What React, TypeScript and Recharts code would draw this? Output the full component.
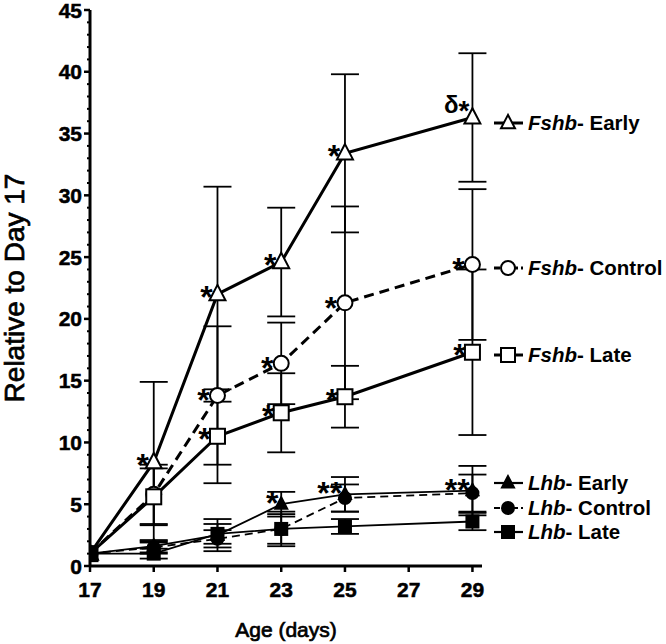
import React from 'react';
import { LineChart, Line, XAxis, YAxis, ErrorBar, LabelList } from 'recharts';

const FONT = '"Liberation Sans", Arial, Helvetica, sans-serif';

const days = [17, 19, 21, 23, 25, 29];
const xTicks = [17, 19, 21, 23, 25, 27, 29];
const yTicks = Array.from({ length: 46 }, (_, i) => i);

const fshbEarly = [1, 8.4, 22.0, 24.6, 33.4, 36.3];
const fshbEarlyErr = [0, 6.5, 8.7, 4.4, 6.4, 5.2];
const fshbEarlyMarks = ['', '*', '*', '*', '*', 'δ*'];

const fshbControl = [1, 5.8, 13.8, 16.4, 21.3, 24.4];
const fshbControlErr = [0, 2.4, 5.6, 3.3, 7.8, 6.1];
const fshbControlMarks = ['', '', '*', '*', '*', '*'];

const fshbLate = [1, 5.6, 10.5, 12.4, 13.7, 17.3];
const fshbLateErr = [0, 2.3, 3.8, 3.2, 2.5, 6.7];
const fshbLateMarks = ['', '', '*', '*', '*', '*'];

const lhbEarly = [1, 1.6, 2.5, 5.0, 5.8, 6.1];
const lhbEarlyErr = [0, 0.5, 1.3, 1.0, 1.4, 2.0];
const lhbEarlyMarks = ['', '', '', '*', '**', '**'];

const lhbControl = [1, 1.5, 2.2, 3.0, 5.5, 5.9];
const lhbControlErr = [0, 0.5, 0.7, 1.2, 1.1, 1.5];

const lhbLate = [1, 1.0, 2.6, 3.0, 3.2, 3.6];
const lhbLateErr = [0, 0.4, 0.8, 1.4, 0.6, 0.7];

const legendItems = [
  { gene: 'Fshb', group: '- Early', shape: 'triangle', filled: false, dashed: false, y: 123 },
  { gene: 'Fshb', group: '- Control', shape: 'circle', filled: false, dashed: true, y: 268 },
  { gene: 'Fshb', group: '- Late', shape: 'square', filled: false, dashed: false, y: 355 },
  { gene: 'Lhb', group: '- Early', shape: 'triangle', filled: true, dashed: false, y: 483 },
  { gene: 'Lhb', group: '- Control', shape: 'circle', filled: true, dashed: true, y: 508 },
  { gene: 'Lhb', group: '- Late', shape: 'square', filled: true, dashed: false, y: 532 },
];

const data = days.map((d, i) => ({
  day: d,
  fe: fshbEarly[i], feErr: fshbEarlyErr[i], feMark: fshbEarlyMarks[i],
  fc: fshbControl[i], fcErr: fshbControlErr[i], fcMark: fshbControlMarks[i],
  fl: fshbLate[i], flErr: fshbLateErr[i], flMark: fshbLateMarks[i],
  le: lhbEarly[i], leErr: lhbEarlyErr[i], leMark: lhbEarlyMarks[i],
  lc: lhbControl[i], lcErr: lhbControlErr[i],
  ll: lhbLate[i], llErr: lhbLateErr[i],
}));

function Marker({ cx, cy, shape, filled, size }: any) {
  const fill = filled ? '#000' : '#fff';
  const s = size;
  if (shape === 'triangle') {
    return (
      <polygon
        points={`${cx},${cy - s * 0.58} ${cx - s / 2},${cy + s * 0.38} ${cx + s / 2},${cy + s * 0.38}`}
        fill={fill} stroke="#000" strokeWidth={2} strokeLinejoin="miter"
      />
    );
  }
  if (shape === 'circle') {
    return <circle cx={cx} cy={cy} r={s / 2} fill={fill} stroke="#000" strokeWidth={2} />;
  }
  return <rect x={cx - s / 2} y={cy - s / 2} width={s} height={s} fill={fill} stroke="#000" strokeWidth={2} />;
}

const makeDot = (shape: string, filled: boolean, size: number) => (props: any) => {
  const { cx, cy, index } = props;
  if (cx == null || cy == null) return <g key={`e-${index}`} />;
  return <Marker key={`m-${shape}-${filled}-${index}`} cx={cx} cy={cy} shape={shape} filled={filled} size={size} />;
};

const STAR = 32;
// dx, dy: offset of the (last) asterisk's centre from the data point
const makeStar = (dx: number, dy: number) => (props: any) => {
  const { x, y, value, index } = props;
  if (!value) return null;
  if (String(value).startsWith('δ')) {
    return (
      <text key={`s-${index}`} x={x - 3} y={y - 4} textAnchor="end" fontFamily={FONT}
        fontWeight="bold" fill="#000">
        <tspan fontSize={24}>δ</tspan>
        <tspan fontSize={28} dy={7}>*</tspan>
      </text>
    );
  }
  return (
    <text key={`s-${index}`} x={x + dx + 0.195 * STAR} y={y + dy + 0.56 * STAR} textAnchor="end"
      fontFamily={FONT} fontWeight="bold" fontSize={STAR} fill="#000">
      {value}
    </text>
  );
};

const YTick = (props: any) => {
  const { x, y, payload } = props;
  const v = payload.value;
  const major = v % 5 === 0;
  return (
    <g>
      <line x1={x - (major ? 6 : 3)} x2={x} y1={y} y2={y} stroke="#000" strokeWidth={major ? 2.5 : 2} />
      {major && (
        <text x={x - 8} y={y} dy="0.36em" textAnchor="end" fontFamily={FONT} fontWeight="bold"
          fontSize={21} fill="#000" stroke="#000" strokeWidth={0.5}>
          {v}
        </text>
      )}
    </g>
  );
};

const XTick = (props: any) => {
  const { x, y, payload } = props;
  return (
    <g>
      <line x1={x} x2={x} y1={y} y2={y + 6} stroke="#000" strokeWidth={2.5} />
      <text x={x} y={y + 6} dy={25} textAnchor="middle" fontFamily={FONT} fontWeight="bold"
        fontSize={21} fill="#000" stroke="#000" strokeWidth={0.5}>
        {payload.value}
      </text>
    </g>
  );
};

const YTitle = (props: any) => {
  const vb = props.viewBox;
  const cy = vb.y + vb.height / 2;
  const cx = vb.x + 24;
  return (
    <text x={cx} y={cy} transform={`rotate(-90 ${cx} ${cy})`} textAnchor="middle"
      fontFamily={FONT} fontSize={28} fill="#000" stroke="#000" strokeWidth={0.7}>
      Relative to Day 17
    </text>
  );
};

const XTitle = (props: any) => {
  const vb = props.viewBox;
  return (
    <text x={vb.x + vb.width / 2} y={vb.y + 71} textAnchor="middle" fontFamily={FONT}
      fontSize={21} fill="#000" stroke="#000" strokeWidth={0.7}>
      Age (days)
    </text>
  );
};

function LegendOverlay() {
  return (
    <svg width={666} height={644} style={{ position: 'absolute', left: 0, top: 0, pointerEvents: 'none' }}>
      {legendItems.map((it, i) => (
        <g key={i}>
          <line x1={494} x2={523} y1={it.y} y2={it.y} stroke="#000"
            strokeWidth={it.gene === 'Fshb' ? 3 : 2.2} strokeDasharray={it.dashed ? '6 3' : undefined} />
          <Marker cx={508} cy={it.y} shape={it.shape} filled={it.filled} size={it.gene === 'Fshb' ? 14 : 12} />
          <text x={528} y={it.y} dy="0.36em" fontFamily={FONT} fontWeight="bold" fontSize={20.5} fill="#000">
            <tspan fontStyle="italic">{it.gene}</tspan>
            <tspan>{it.group}</tspan>
          </text>
        </g>
      ))}
    </svg>
  );
}

export default function App() {
  return (
    <div style={{ position: 'absolute', left: 0, top: 0, width: 666, height: 644, background: '#fff' }}>
      <LineChart width={666} height={644} data={data} margin={{ top: 10, right: 184, bottom: 0, left: 0 }}>
        <XAxis type="number" dataKey="day" domain={[17, 29.3]} ticks={xTicks} tickSize={0} tickMargin={0}
          tickLine={false} tick={<XTick />} axisLine={{ stroke: '#000', strokeWidth: 3 }} height={78}
          interval={0} label={<XTitle />} allowDataOverflow />
        <YAxis type="number" domain={[0, 45]} ticks={yTicks} tickSize={0} tickMargin={0} tickLine={false}
          tick={<YTick />} axisLine={{ stroke: '#000', strokeWidth: 3 }} width={90} interval={0}
          label={<YTitle />} allowDataOverflow />

        <Line dataKey="fc" stroke="#000" strokeWidth={3} strokeDasharray="10 6" isAnimationActive={false}
          dot={makeDot('circle', false, 15)} activeDot={false}>
          <ErrorBar dataKey="fcErr" direction="y" width={14} stroke="#000" strokeWidth={1.8} />
          <LabelList dataKey="fcMark" content={makeStar(-14, -2)} />
        </Line>
        <Line dataKey="fl" stroke="#000" strokeWidth={3} isAnimationActive={false}
          dot={makeDot('square', false, 15)} activeDot={false}>
          <ErrorBar dataKey="flErr" direction="y" width={14} stroke="#000" strokeWidth={1.8} />
          <LabelList dataKey="flMark" content={makeStar(-13, -4)} />
        </Line>
        <Line dataKey="fe" stroke="#000" strokeWidth={3} isAnimationActive={false}
          dot={makeDot('triangle', false, 16)} activeDot={false}>
          <ErrorBar dataKey="feErr" direction="y" width={14} stroke="#000" strokeWidth={1.8} />
          <LabelList dataKey="feMark" content={makeStar(-11, -4)} />
        </Line>
        <Line dataKey="lc" stroke="#000" strokeWidth={1.8} strokeDasharray="8 5" isAnimationActive={false}
          dot={makeDot('circle', true, 12)} activeDot={false}>
          <ErrorBar dataKey="lcErr" direction="y" width={14} stroke="#000" strokeWidth={1.8} />
        </Line>
        <Line dataKey="le" stroke="#000" strokeWidth={1.8} isAnimationActive={false}
          dot={makeDot('triangle', true, 12)} activeDot={false}>
          <ErrorBar dataKey="leErr" direction="y" width={14} stroke="#000" strokeWidth={1.8} />
          <LabelList dataKey="leMark" content={makeStar(-9, -8)} />
        </Line>
        <Line dataKey="ll" stroke="#000" strokeWidth={1.8} isAnimationActive={false}
          dot={makeDot('square', true, 12)} activeDot={false}>
          <ErrorBar dataKey="llErr" direction="y" width={14} stroke="#000" strokeWidth={1.8} />
        </Line>
      </LineChart>
      <LegendOverlay />
    </div>
  );
}
